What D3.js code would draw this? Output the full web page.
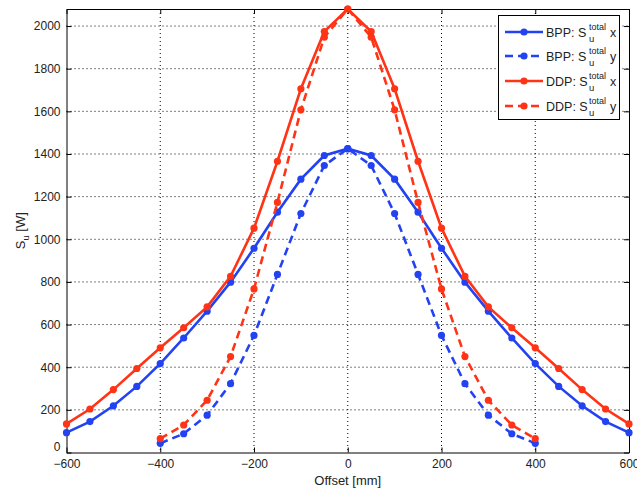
<!DOCTYPE html>
<html><head><meta charset="utf-8">
<script src="https://cdn.jsdelivr.net/npm/d3@7/dist/d3.min.js"></script>
<style>body{margin:0;background:#fff}svg{display:block}text{font-family:"Liberation Sans",Arial,sans-serif;fill:#222}</style>
</head><body><svg id="c" width="637" height="488"></svg>
<script>
const offsetsX = [-600,-550,-500,-450,-400,-350,-300,-250,-200,-150,-100,-50,0,50,100,150,200,250,300,350,400,450,500,550,600];
const offsetsY = [-400,-350,-300,-250,-200,-150,-100,-50,0,50,100,150,200,250,300,350,400];
const bppX = [93,145,219,310,417,537,663,799,958,1127,1282,1393,1425,1393,1282,1127,958,799,663,537,417,310,219,145,93];
const bppY = [43,88,175,323,549,835,1121,1346,1425,1346,1121,835,549,323,175,88,43];
const ddpX = [134,204,295,394,491,585,683,826,1052,1366,1706,1974,2080,1974,1706,1366,1052,826,683,585,491,394,295,204,134];
const ddpY = [65,129,245,450,767,1173,1607,1948,2080,1948,1607,1173,767,450,245,129,65];
const xTicks = [-600,-400,-200,0,200,400,600];
const yTicks = [0,200,400,600,800,1000,1200,1400,1600,1800,2000];
const seriesNames = ["BPP","BPP","DDP","DDP"];
const seriesAxis = ["x","y","x","y"];

const BLUE = "#2342f2", RED = "#ff3315";
const series = [
  {xs: offsetsX, ys: bppX, color: BLUE, dash: null},
  {xs: offsetsY, ys: bppY, color: BLUE, dash: "8,5"},
  {xs: offsetsX, ys: ddpX, color: RED, dash: null},
  {xs: offsetsY, ys: ddpY, color: RED, dash: "8,5"}
];

const L = 66.5, R = 629, T = 9, B = 452.5;
const svg = d3.select("#c");
const x = d3.scaleLinear().domain([-600,600]).range([L,R]);
const y = d3.scaleLinear().domain([0,2080]).range([B,T]);

// grid
const g = svg.append("g");
g.selectAll(".gx").data(xTicks.filter(t=>t>-600&&t<600)).enter().append("line")
  .attr("x1",d=>x(d)).attr("x2",d=>x(d)).attr("y1",T).attr("y2",B)
  .attr("stroke","#000").attr("stroke-width",1).attr("stroke-dasharray","1,3");
g.selectAll(".gy").data(yTicks.filter(t=>t>0)).enter().append("line")
  .attr("y1",d=>y(d)).attr("y2",d=>y(d)).attr("x1",L).attr("x2",R)
  .attr("stroke","#000").attr("stroke-width",1).attr("stroke-dasharray","1,3");

// axes
const ax = svg.append("g");
const xa = ax.append("g").attr("transform",`translate(0,${B})`)
  .call(d3.axisBottom(x).tickValues(xTicks).tickSizeInner(-5).tickSizeOuter(0).tickPadding(7).tickFormat(d=>d<0?"\u2212"+Math.abs(d):String(d)));
const xt = ax.append("g").attr("transform",`translate(0,${T})`)
  .call(d3.axisTop(x).tickValues(xTicks).tickSizeInner(-5).tickSizeOuter(0).tickFormat(""));
const ya = ax.append("g").attr("transform",`translate(${L},0)`)
  .call(d3.axisLeft(y).tickValues(yTicks).tickSizeInner(-5).tickSizeOuter(0).tickPadding(6).tickFormat(d=>String(d)));
const yr = ax.append("g").attr("transform",`translate(${R},0)`)
  .call(d3.axisRight(y).tickValues(yTicks).tickSizeInner(-5).tickSizeOuter(0).tickFormat(""));
ax.selectAll(".domain").attr("stroke","#000").attr("stroke-width",1);
ax.selectAll(".tick line").attr("stroke","#000");
ax.selectAll("text").attr("font-size",12).attr("fill","#222").style("font-family",'"Liberation Sans",Arial,sans-serif');
ya.selectAll(".tick").filter(d=>d===0).select("text").attr("dy","-0.2em");

// data
const line = d3.line().x(d=>x(d[0])).y(d=>y(d[1]));
series.forEach(s=>{
  const pts = s.xs.map((v,i)=>[v,s.ys[i]]);
  svg.append("path").datum(pts).attr("d",line).attr("fill","none")
    .attr("stroke",s.color).attr("stroke-width",2.6).attr("stroke-dasharray",s.dash);
  svg.append("g").selectAll("circle").data(pts).enter().append("circle")
    .attr("cx",d=>x(d[0])).attr("cy",d=>y(d[1])).attr("r",3.6).attr("fill",s.color);
});

// labels
svg.append("text").attr("x",(L+R)/2).attr("y",485).attr("text-anchor","middle").attr("font-size",13).text("Offset [mm]");
const yl = svg.append("text").attr("transform",`translate(25,${(T+B)/2}) rotate(-90)`).attr("text-anchor","middle").attr("font-size",13);
yl.append("tspan").text("S");
yl.append("tspan").attr("font-size",9.5).attr("dy",4).text("u");
yl.append("tspan").attr("dy",-4).text(" [W]");

// legend
const lg = svg.append("g");
lg.append("rect").attr("x",498.5).attr("y",15.5).attr("width",121).attr("height",104)
  .attr("fill","#fff").attr("stroke","#000").attr("stroke-width",1);
const rowsY = [32,56,81,106];
series.forEach((s,i)=>{
  const cy = rowsY[i];
  lg.append("line").attr("x1",505).attr("x2",543).attr("y1",cy).attr("y2",cy)
    .attr("stroke",s.color).attr("stroke-width",2.6).attr("stroke-dasharray",s.dash?"8,5":null);
  lg.append("circle").attr("cx",524).attr("cy",cy).attr("r",3.6).attr("fill",s.color);
  lg.append("text").attr("x",546).attr("y",cy+4.5).attr("font-size",12.5).text(seriesNames[i]+": S");
  lg.append("text").attr("x",589).attr("y",cy-2).attr("font-size",9).text("total");
  lg.append("text").attr("x",589).attr("y",cy+10).attr("font-size",9.5).text("u");
  lg.append("text").attr("x",610).attr("y",cy+5).attr("font-size",12.5).text(seriesAxis[i]);
});
</script></body></html>
